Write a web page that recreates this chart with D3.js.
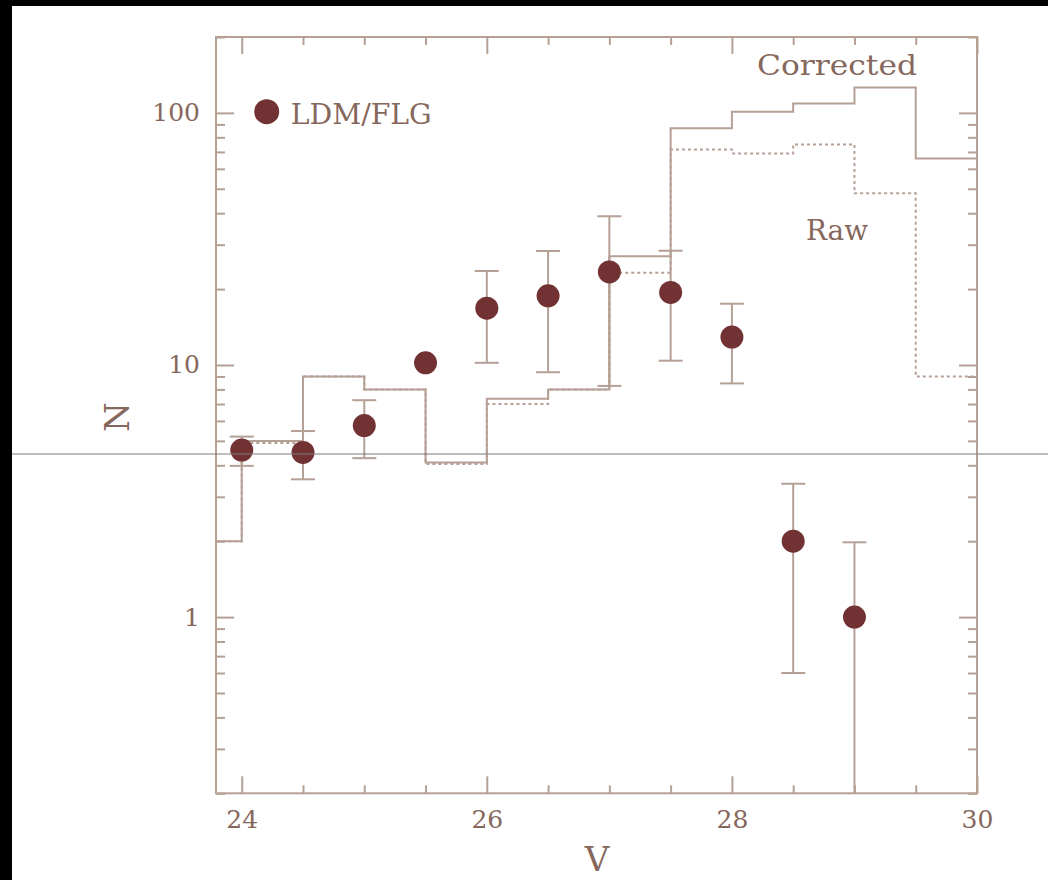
<!DOCTYPE html>
<html>
<head>
<meta charset="utf-8">
<script src="https://cdn.jsdelivr.net/npm/d3@7"></script>
<style>
  html, body { margin: 0; padding: 0; background: #fff; }
  svg { display: block; }
  text { font-family: "DejaVu Serif", "Liberation Serif", serif; }
</style>
</head>
<body>
<svg id="chart" width="1048" height="880"></svg>
<script>
// ---- data ----
// Histogram bins (left edges, width 0.5 mag)
const binLeft = [23.5, 24, 24.5, 25, 25.5, 26, 26.5, 27, 27.5, 28, 28.5, 29, 29.5];
const binWidth = 0.5;
const corrected = [2.0, 5.0, 9.0, 8.0, 4.1, 7.35, 8.0, 27, 87, 101, 109, 126, 66];
const raw       = [2.0, 4.9, 9.0, 8.0, 4.05, 7.0, 8.0, 23.2, 71.5, 69, 75, 48, 9.0];

// LDM/FLG points
const ptV   = [24, 24.5, 25, 25.5, 26, 26.5, 27, 27.5, 28, 28.5, 29];
const ptN   = [4.6, 4.5, 5.75, 10.2, 16.8, 18.8, 23.4, 19.4, 12.9, 2.0, 1.0];
const ptLo  = [3.98, 3.52, 4.27, 9.3, 10.2, 9.36, 8.26, 10.4, 8.45, 0.60, 0];
const ptHi  = [5.2, 5.47, 7.25, 11.1, 23.6, 28.3, 38.9, 28.4, 17.5, 3.38, 1.98];

const xMajorTicks = [24, 26, 28, 30];
const xMinorTicks = [24.5, 25, 25.5, 26.5, 27, 27.5, 28.5, 29, 29.5];
const yMajorTicks = [1, 10, 100];
const yMinorTicks = [0.2, 0.3, 0.4, 0.5, 0.6, 0.7, 0.8, 0.9, 2, 3, 4, 5, 6, 7, 8, 9,
                     20, 30, 40, 50, 60, 70, 80, 90, 200];

// ---- styles ----
const TXT = "#86675c";
const LINE = "#b5a095";
const MARK = "#723234";

const svg = d3.select("#chart");
svg.append("rect").attr("width", 1048).attr("height", 880).attr("fill", "#fff");

const L = 216, R = 977, T = 37, B = 793.3;
const x = d3.scaleLinear().domain([23.79, 30]).range([L, R]);
const y = d3.scaleLog().domain([0.2, 200]).range([B, T]);

svg.append("clipPath").attr("id", "clip")
  .append("rect").attr("x", L).attr("y", T).attr("width", R - L).attr("height", B - T);

// ---- axes (ticks inward) ----
function styleAxis(g) {
  g.select(".domain").remove();
  g.selectAll(".tick line").attr("stroke", LINE).attr("stroke-width", 2);
  g.selectAll(".tick text").attr("fill", TXT).attr("font-size", 25)
    .attr("font-family", "DejaVu Serif");
}
// bottom
svg.append("g").attr("transform", `translate(0,${B})`)
  .call(d3.axisBottom(x).tickValues(xMajorTicks).tickSize(-17).tickPadding(17).tickFormat(d3.format("d")))
  .call(styleAxis);
svg.append("g").attr("transform", `translate(0,${B})`)
  .call(d3.axisBottom(x).tickValues(xMinorTicks).tickSize(-8).tickFormat(""))
  .call(styleAxis);
// top
svg.append("g").attr("transform", `translate(0,${T})`)
  .call(d3.axisTop(x).tickValues(xMajorTicks).tickSize(-17).tickFormat(""))
  .call(styleAxis);
svg.append("g").attr("transform", `translate(0,${T})`)
  .call(d3.axisTop(x).tickValues(xMinorTicks).tickSize(-8).tickFormat(""))
  .call(styleAxis);
// left
svg.append("g").attr("transform", `translate(${L},0)`)
  .call(d3.axisLeft(y).tickValues(yMajorTicks).tickSize(-18).tickPadding(16).tickFormat(d3.format("d")))
  .call(styleAxis);
svg.append("g").attr("transform", `translate(${L},0)`)
  .call(d3.axisLeft(y).tickValues(yMinorTicks).tickSize(-9).tickFormat(""))
  .call(styleAxis);
// right
svg.append("g").attr("transform", `translate(${R},0)`)
  .call(d3.axisRight(y).tickValues(yMajorTicks).tickSize(-18).tickFormat(""))
  .call(styleAxis);
svg.append("g").attr("transform", `translate(${R},0)`)
  .call(d3.axisRight(y).tickValues(yMinorTicks).tickSize(-9).tickFormat(""))
  .call(styleAxis);

// frame
svg.append("rect").attr("x", L).attr("y", T).attr("width", R - L).attr("height", B - T)
  .attr("fill", "none").attr("stroke", LINE).attr("stroke-width", 2);

// ---- histograms ----
function stepData(vals) {
  const pts = binLeft.map((b, i) => [b, vals[i]]);
  pts.push([binLeft[binLeft.length - 1] + binWidth, vals[vals.length - 1]]);
  return pts;
}
const stepLine = d3.line().x(d => x(d[0])).y(d => y(d[1])).curve(d3.curveStepAfter);
const plot = svg.append("g").attr("clip-path", "url(#clip)");

plot.append("path").datum(stepData(raw)).attr("d", stepLine)
  .attr("fill", "none").attr("stroke", LINE).attr("stroke-width", 2)
  .attr("stroke-dasharray", "3,3");
plot.append("path").datum(stepData(corrected)).attr("d", stepLine)
  .attr("fill", "none").attr("stroke", LINE).attr("stroke-width", 2);

// ---- error bars & points ----
const pts = ptV.map((v, i) => ({ v, n: ptN[i], lo: ptLo[i], hi: ptHi[i] }));
const r = 11.5, cap = 12;
const eb = plot.append("g").attr("stroke", LINE).attr("stroke-width", 2);
pts.forEach(d => {
  const yLo = d.lo > 0.2 ? y(d.lo) : B;
  const yHi = y(d.hi);
  eb.append("line").attr("x1", x(d.v)).attr("x2", x(d.v)).attr("y1", yLo).attr("y2", yHi);
  if (y(d.n) - yHi > r + 1)
    eb.append("line").attr("x1", x(d.v) - cap).attr("x2", x(d.v) + cap).attr("y1", yHi).attr("y2", yHi);
  if (d.lo > 0.2 && yLo - y(d.n) > r + 1)
    eb.append("line").attr("x1", x(d.v) - cap).attr("x2", x(d.v) + cap).attr("y1", yLo).attr("y2", yLo);
});
plot.append("g").selectAll("circle").data(pts).join("circle")
  .attr("cx", d => x(d.v)).attr("cy", d => y(d.n)).attr("r", r).attr("fill", MARK);

// ---- labels ----
svg.append("circle").attr("cx", 266.7).attr("cy", 111.7).attr("r", 12.5).attr("fill", MARK);
svg.append("text").attr("x", 290.7).attr("y", 124.3).attr("font-size", 28).attr("fill", TXT)
  .attr("textLength", 141).attr("lengthAdjust", "spacingAndGlyphs").text("LDM/FLG");
svg.append("text").attr("x", 757).attr("y", 75).attr("font-size", 28).attr("fill", TXT)
  .attr("textLength", 160).attr("lengthAdjust", "spacingAndGlyphs").text("Corrected");
svg.append("text").attr("x", 806).attr("y", 240).attr("font-size", 28).attr("fill", TXT)
  .attr("textLength", 62).attr("lengthAdjust", "spacingAndGlyphs").text("Raw");
svg.append("text").attr("x", 597).attr("y", 871).attr("text-anchor", "middle")
  .attr("font-size", 34).attr("fill", TXT).text("V");
svg.append("text").attr("transform", "translate(129,417) rotate(-90)").attr("text-anchor", "middle")
  .attr("font-size", 34).attr("fill", TXT).text("N");

// ---- image border artifacts ----
svg.append("rect").attr("x", 0).attr("y", 0).attr("width", 1048).attr("height", 6).attr("fill", "#000");
svg.append("rect").attr("x", 0).attr("y", 0).attr("width", 12).attr("height", 880).attr("fill", "#000");
svg.append("line").attr("x1", 12).attr("x2", 1048).attr("y1", 454).attr("y2", 454)
  .attr("stroke", "#7a7a7a").attr("stroke-width", 1);
</script>
</body>
</html>
